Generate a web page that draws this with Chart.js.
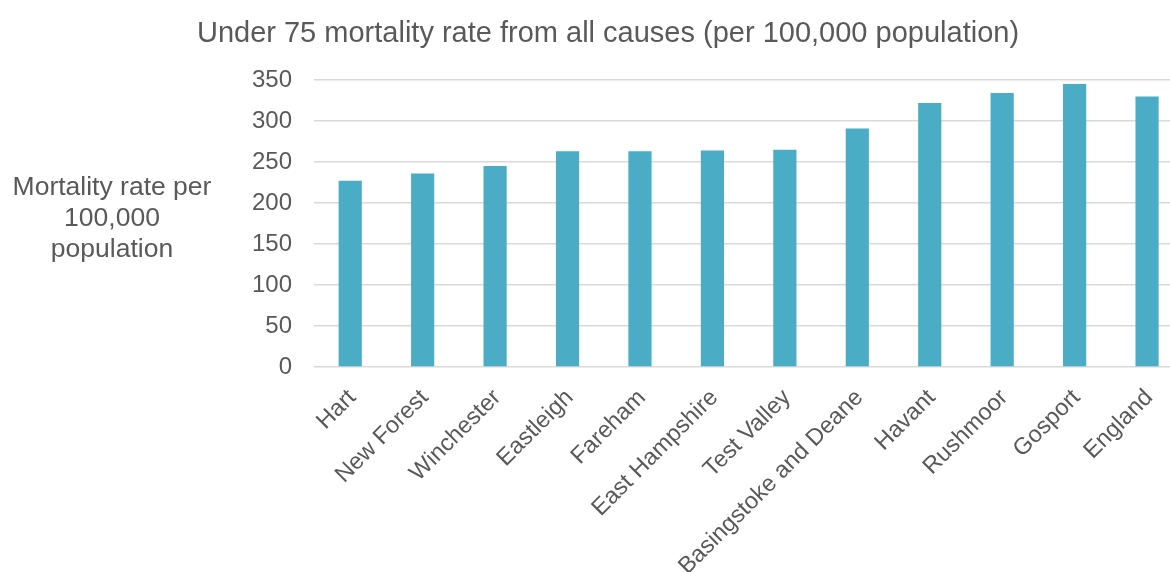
<!DOCTYPE html>
<html>
<head>
<meta charset="utf-8">
<script src="https://cdn.jsdelivr.net/npm/chart.js@4.4.1/dist/chart.umd.min.js"></script>
<style>
  html, body { margin: 0; padding: 0; background: #ffffff; overflow: hidden; }
  #wrap { width: 1170px; height: 572px; overflow: hidden; position: relative; }
  #box { width: 1184px; height: 572px; position: absolute; left: 0; top: 0; }
</style>
</head>
<body>
<div id="wrap"><div id="box"><canvas id="c"></canvas></div></div>
<script>
// Under-75 mortality rate from all causes, per 100,000 population
const areas = ["Hart", "New Forest", "Winchester", "Eastleigh", "Fareham", "East Hampshire",
  "Test Valley", "Basingstoke and Deane", "Havant", "Rushmoor", "Gosport", "England"];
const rates = [227, 236, 245, 263, 263, 264, 265, 291, 322, 334, 345, 330];
const yTicks = [0, 50, 100, 150, 200, 250, 300, 350];

const chartTitle = "Under 75 mortality rate from all causes (per 100,000 population)";
const yTitleLines = ["Mortality rate per", "100,000", "population"];

const FONT = "'Liberation Sans', Arial, sans-serif";
const TEXT = "#595959";

// Draws the heading and the horizontal y-axis caption
const captions = {
  id: "captions",
  afterDraw(chart) {
    const ctx = chart.ctx;
    ctx.save();
    ctx.fillStyle = TEXT;
    ctx.textAlign = "center";
    ctx.textBaseline = "alphabetic";
    ctx.font = "29px " + FONT;
    ctx.fillText(chartTitle, 608, 42);
    ctx.font = "26.5px " + FONT;
    yTitleLines.forEach((t, i) => {
      ctx.fillText(t, 112, 195 + i * 31);
    });
    ctx.restore();
  }
};

new Chart(document.getElementById("c"), {
  type: "bar",
  data: {
    labels: areas,
    datasets: [{
      data: rates,
      backgroundColor: "#4BACC6",
      borderWidth: 0,
      barPercentage: 0.32,
      categoryPercentage: 1.0
    }]
  },
  options: {
    responsive: true,
    maintainAspectRatio: false,
    animation: false,
    layout: { padding: { top: 80, left: 0, right: 0, bottom: 0 } },
    plugins: {
      legend: { display: false },
      title: { display: false },
      tooltip: { enabled: false }
    },
    scales: {
      x: {
        grid: { display: false, drawTicks: false },
        border: { display: false },
        ticks: {
          color: TEXT,
          font: { family: FONT, size: 23.5 },
          maxRotation: 45,
          minRotation: 45,
          autoSkip: false,
          labelOffset: 2,
          padding: 17
        },
        afterFit(scale) { scale.height = 205; }
      },
      y: {
        min: 0,
        max: 350,
        afterBuildTicks(scale) { scale.ticks = yTicks.map(v => ({ value: v })); },
        grid: { color: "#d9d9d9", lineWidth: 1.5, drawTicks: false },
        border: { display: false },
        ticks: {
          color: TEXT,
          font: { family: FONT, size: 24 },
          padding: 22
        },
        afterFit(scale) { scale.width = 314; }
      }
    }
  },
  plugins: [captions]
});
</script>
</body>
</html>
